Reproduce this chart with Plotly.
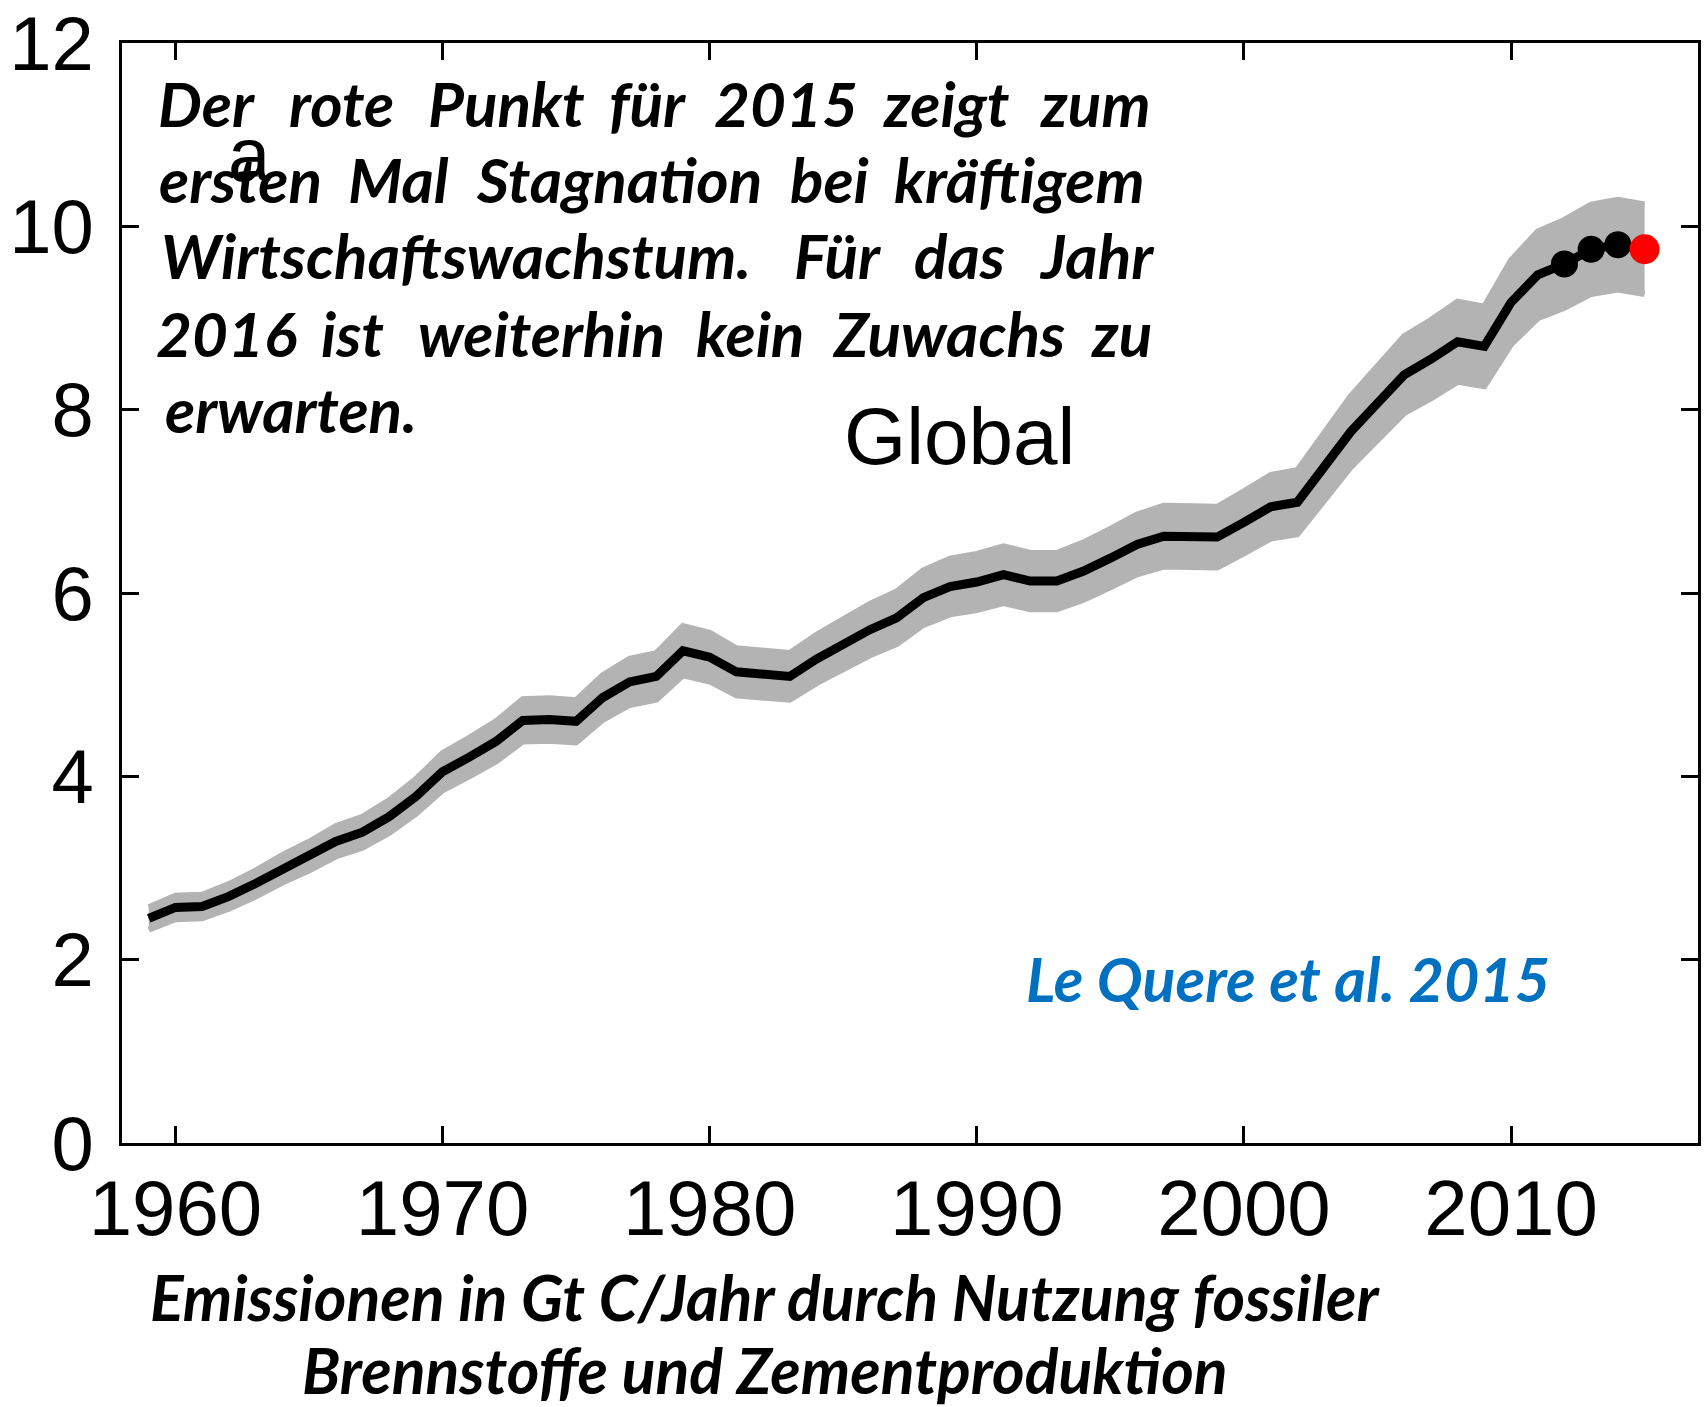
import plotly.graph_objects as go

# ---------------- data ----------------
years = list(range(1959, 2015))
emissions = [2.45, 2.57, 2.58, 2.69, 2.83, 2.99, 3.13, 3.29, 3.39, 3.56,
             3.78, 4.05, 4.21, 4.38, 4.61, 4.62, 4.60, 4.86, 5.03, 5.09,
             5.37, 5.30, 5.14, 5.11, 5.09, 5.28, 5.44, 5.60, 5.73, 5.95,
             6.07, 6.12, 6.20, 6.13, 6.13, 6.24, 6.38, 6.53, 6.62, 6.61,
             6.61, 6.77, 6.94, 6.99, 7.38, 7.76, 8.07, 8.38, 8.55, 8.74,
             8.69, 9.17, 9.47, 9.59, 9.75, 9.80]
highlight_years = [2012, 2013, 2014]
projection_year = 2015
projection_value = 9.75
rel_uncertainty = 0.05

x_ticks = [1960, 1970, 1980, 1990, 2000, 2010]
y_ticks = [0, 2, 4, 6, 8, 10, 12]

note_lines = [
    ["Der", "rote", "Punkt", "für", "2015", "zeigt", "zum"],
    ["ersten", "Mal", "Stagnation", "bei", "kräftigem"],
    ["Wirtschaftswachstum.", "Für", "das", "Jahr"],
    ["2016", "ist", "weiterhin", "kein", "Zuwachs", "zu"],
    ["erwarten."],
]
panel_label = "a"
region_label = "Global"
source_label = "Le Quere et al. 2015"
caption_lines = ["Emissionen in Gt C/Jahr durch Nutzung fossiler",
                 "Brennstoffe und Zementproduktion"]

# ---------------- geometry ----------------
W, H = 1708, 1407
ML, MR, MT, MB = 122, 10, 43, 264
PW, PH = W - ML - MR, H - MT - MB


def px(xp):
    return (xp - ML) / PW


def py(yp):
    return (H - MB - yp) / PH


band_years = years + [projection_year]
band_vals = emissions + [projection_value]
upper = [v * (1 + rel_uncertainty) for v in band_vals]
lower = [v * (1 - rel_uncertainty) for v in band_vals]

GRAY = "#b3b3b3"
fig = go.Figure()
fig.add_trace(go.Scatter(x=band_years, y=lower, mode="lines",
                         line=dict(color=GRAY, width=6), showlegend=False,
                         hoverinfo="skip"))
fig.add_trace(go.Scatter(x=band_years, y=upper, mode="lines", fill="tonexty",
                         fillcolor=GRAY, line=dict(color=GRAY, width=6),
                         showlegend=False, hoverinfo="skip"))
fig.add_trace(go.Scatter(x=years, y=emissions, mode="lines",
                         line=dict(color="black", width=9), showlegend=False))
hl_vals = [emissions[years.index(y)] for y in highlight_years]
fig.add_trace(go.Scatter(x=highlight_years, y=hl_vals, mode="markers",
                         marker=dict(color="black", size=27), showlegend=False))
fig.add_trace(go.Scatter(x=[projection_year], y=[projection_value], mode="markers",
                         marker=dict(color="#ff0000", size=30), showlegend=False))

ann = []
ARIAL = "Liberation Sans"
TXT = "Lato"
ann.append(dict(text=panel_label, x=px(249), y=py(154), xref="paper", yref="paper",
                showarrow=False, xanchor="center", yanchor="middle",
                font=dict(family=ARIAL, size=76, color="black")))
ann.append(dict(text=region_label, x=px(959), y=py(436), xref="paper", yref="paper",
                showarrow=False, xanchor="center", yanchor="middle",
                font=dict(family=ARIAL, size=80, color="black")))

# justified note text: word centres and line positions
word_centres = [
    [206, 341, 506, 647, 786, 946, 1095],
    [240, 398, 619, 829, 1020],
    [456, 837, 959, 1096],
    [226, 352, 541, 750, 948, 1121],
    [291],
]
line_mid = [103, 179, 255, 333, 409]
for words, cents, ym in zip(note_lines, word_centres, line_mid):
    for w, c in zip(words, cents):
        ann.append(dict(text="<b><i>%s</i></b>" % w, x=px(c), y=py(ym),
                        xref="paper", yref="paper", showarrow=False,
                        xanchor="center", yanchor="middle",
                        font=dict(family=TXT, size=62, color="black")))

ann.append(dict(text="<b><i>%s</i></b>" % source_label, x=px(1288), y=py(978),
                xref="paper", yref="paper", showarrow=False,
                xanchor="center", yanchor="middle",
                font=dict(family=TXT, size=61, color="#0070C0")))
for t, ym in zip(caption_lines, [1296, 1369]):
    ann.append(dict(text="<b><i>%s</i></b>" % t, x=px(765), y=py(ym),
                    xref="paper", yref="paper", showarrow=False,
                    xanchor="center", yanchor="middle",
                    font=dict(family=TXT, size=62.5, color="black")))

axis_common = dict(showline=True, linecolor="black", linewidth=3, mirror="ticks",
                   ticks="inside", ticklen=17, tickwidth=3, tickcolor="black",
                   showgrid=False, zeroline=False, automargin=False)
fig.update_layout(
    width=W, height=H,
    margin=dict(l=ML, r=MR, t=MT, b=MB),
    paper_bgcolor="white", plot_bgcolor="white",
    xaxis=dict(range=[1958, 2017], tickvals=x_ticks, ticklabelstandoff=-5,
               tickfont=dict(family=ARIAL, size=78, color="black"), **axis_common),
    yaxis=dict(range=[0, 12], tickvals=y_ticks, ticklabelstandoff=10,
               tickfont=dict(family=ARIAL, size=76, color="black"), **axis_common),
    annotations=ann,
    showlegend=False,
)
fig.write_html("out.html", config={"displayModeBar": False},
               post_script="document.body.style.margin='0';"
                           "document.body.style.overflow='hidden';")
